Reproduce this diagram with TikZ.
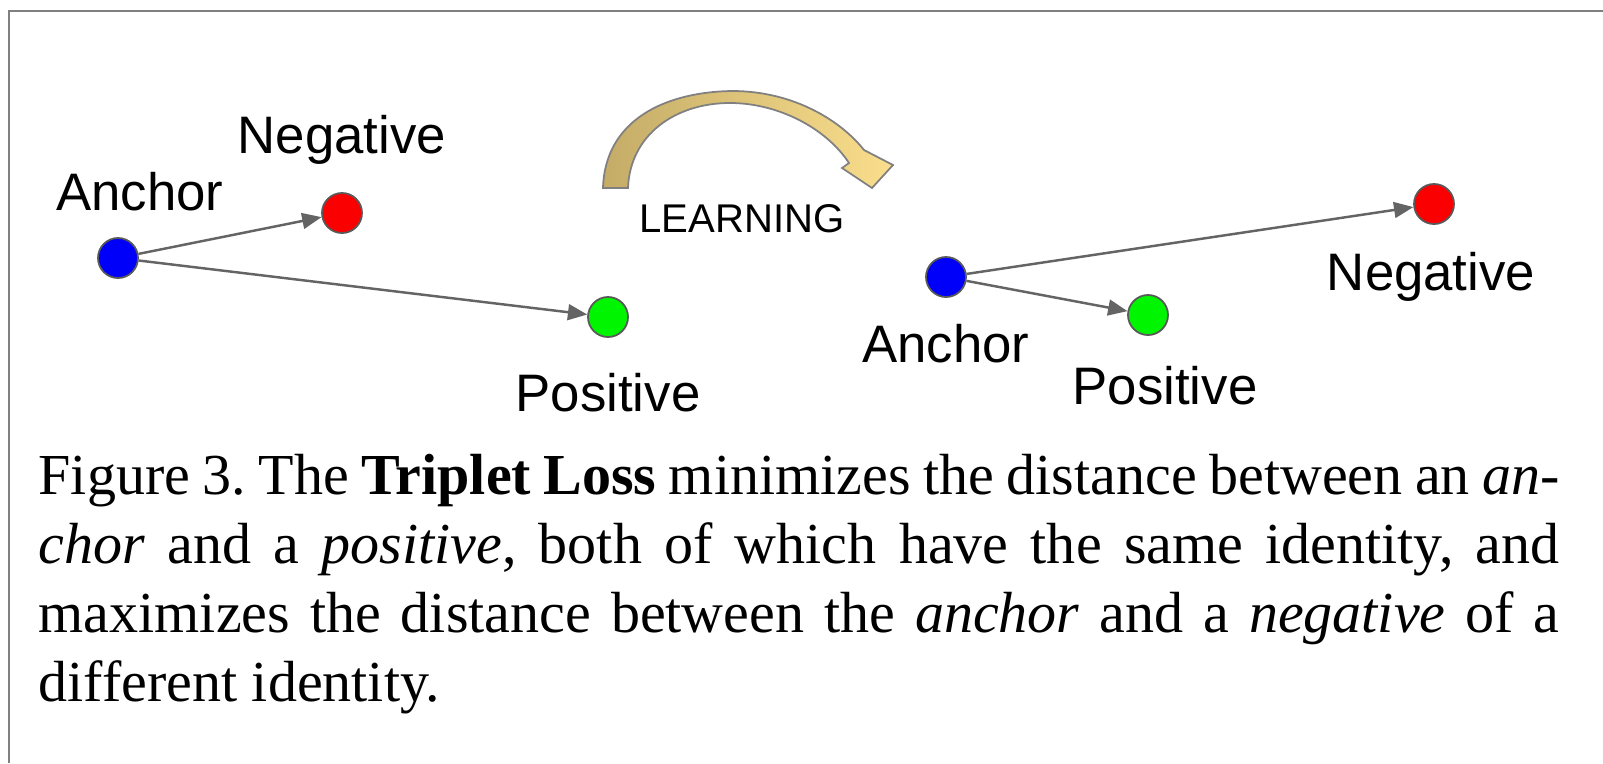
\documentclass[tikz,border=0pt]{standalone}
\usepackage{fontspec}
\setmainfont{Liberation Serif}
\setsansfont{Liberation Sans}
\usetikzlibrary{arrows.meta}

\definecolor{dotblue}{RGB}{0,0,250}
\definecolor{dotred}{RGB}{250,0,0}
\definecolor{dotgreen}{RGB}{0,245,0}
\definecolor{linkgray}{RGB}{100,100,100}
\definecolor{bendlight}{RGB}{250,222,140}
\definecolor{benddark}{RGB}{196,172,104}

\tikzset{
  dot/.style={circle, draw=gray!70!black, line width=0.5pt, minimum size=0.4cm, inner sep=0pt},
  link/.style={draw=linkgray, line width=0.7pt, -{Triangle[length=5.5pt,width=4.5pt]}},
  word/.style={font=\sffamily\fontsize{15}{18}\selectfont, inner sep=0pt, anchor=base},
}

\begin{document}
\begin{tikzpicture}[x=0.01cm, y=-0.01cm]

\useasboundingbox (0,0) rectangle (1603,763);

% Frame
\draw[gray, line width=0.8pt] (9,763) -- (9,11) -- (1603,11);

% Points before learning
\node[dot, fill=dotblue]  (anc1) at (118,258) {};
\node[dot, fill=dotred]   (neg1) at (342,213) {};
\node[dot, fill=dotgreen] (pos1) at (608,317) {};

% Points after learning
\node[dot, fill=dotblue]  (anc2) at (946,277) {};
\node[dot, fill=dotred]   (neg2) at (1434,204) {};
\node[dot, fill=dotgreen] (pos2) at (1148,315) {};

% Distances
\draw[link] (anc1) -- (neg1);
\draw[link] (anc1) -- (pos1);
\draw[link] (anc2) -- (neg2);
\draw[link] (anc2) -- (pos2);

% Labels
\node[word] (lanc1) at (140,210) {Anchor};
\node[word] (lneg1) at (342,153) {Negative};
\node[word] (lpos1) at (608,411) {Positive};
\node[word] (lanc2) at (946,362) {Anchor};
\node[word] (lneg2) at (1431,290) {Negative};
\node[word] (lpos2) at (1165,404) {Positive};

% Learning arrow
\draw[gray, line width=0.5pt, left color=benddark, right color=bendlight]
  (603,188) .. controls (605,120) and (665,92) .. (732,91)
  .. controls (795,91) and (842,122) .. (864,150)
  -- (893,165) -- (872,188) -- (842,168) -- (849,163)
  .. controls (826,128) and (778,103) .. (730,103)
  .. controls (675,103) and (630,135) .. (628,188) -- cycle;
\node[word, font=\sffamily\fontsize{11.4}{14}\selectfont] (learn) at (742,232) {LEARNING};

% Caption
\node[anchor=north west, inner sep=0pt, text width=15.2cm,
      font=\fontsize{16.5}{19.6}\selectfont\frenchspacing] (caption) at (38,454) {%
  \spaceskip=0.25em plus 0.4em minus 0.16em
  \makebox[\linewidth][s]{Figure 3. The \textbf{Triplet Loss} minimizes the distance between an \emph{an-}}\\
  \makebox[\linewidth][s]{\emph{chor} and a \emph{positive}, both of which have the same identity, and}\\
  \makebox[\linewidth][s]{maximizes the distance between the \emph{anchor} and a \emph{negative} of a}\\
  different identity.};

\end{tikzpicture}
\end{document}
